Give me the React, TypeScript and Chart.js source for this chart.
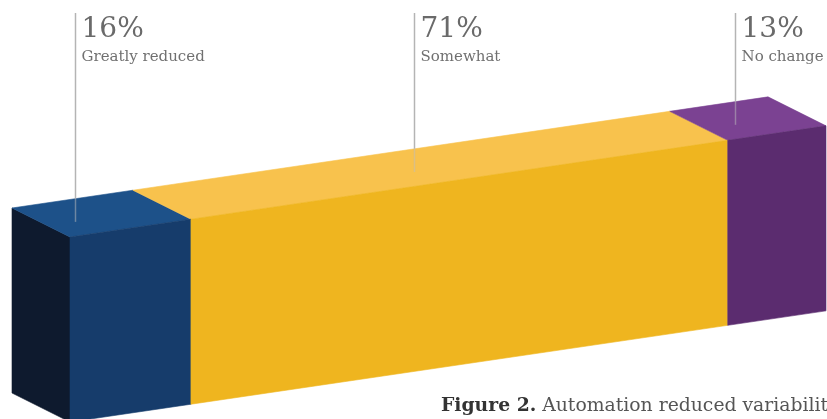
import React, { useEffect, useRef } from "react";
import { Chart, registerables } from "chart.js";

Chart.register(...registerables);

// ---- data ----
const categories = ["Greatly reduced", "Somewhat", "No change"];
const percentages = [16, 71, 13];
const percentLabels = ["16%", "71%", "13%"];
const captionBold = "Figure 2.";
const captionText = " Automation reduced variability";

// ---- styles ----
const frontColors = ["#163c6b", "#efb51f", "#5b2c6f"];
const topColors = ["#1d5189", "#f8c24d", "#7b4292"];
const capColor = "#0e1a2e";

const SLOPE = -0.147; // vertical drift of the bar per horizontal px
const DEPTH = { x: -58, y: -29 }; // oblique depth vector
const LEADER_FRACTION = [0.28, 0.47, 0.37]; // where the leader sits within each segment

const box3dPlugin = {
  id: "box3d",
  beforeDatasetsDraw() {
    return false;
  },
  afterDraw(chart: any) {
    const ctx: CanvasRenderingContext2D = chart.ctx;
    const xScale = chart.scales.x;
    const x0 = xScale.getPixelForValue(0);
    const first = chart.getDatasetMeta(0).data[0] as any;
    const yTop0 = first.y - first.height / 2;
    const yBot0 = first.y + first.height / 2 + 3;
    const top = (x: number) => yTop0 + SLOPE * (x - x0);
    const bot = (x: number) => yBot0 + SLOPE * (x - x0);

    const poly = (pts: number[][], color: string) => {
      ctx.beginPath();
      ctx.moveTo(pts[0][0], pts[0][1]);
      for (let i = 1; i < pts.length; i++) ctx.lineTo(pts[i][0], pts[i][1]);
      ctx.closePath();
      ctx.fillStyle = color;
      ctx.fill();
      ctx.strokeStyle = color;
      ctx.lineWidth = 0.6;
      ctx.stroke();
    };

    ctx.save();
    // left end cap
    poly(
      [
        [x0, top(x0)],
        [x0, bot(x0)],
        [x0 + DEPTH.x, bot(x0) + DEPTH.y],
        [x0 + DEPTH.x, top(x0) + DEPTH.y],
      ],
      capColor
    );

    const segs: { xs: number; xe: number }[] = [];
    chart.data.datasets.forEach((_: any, i: number) => {
      const el = chart.getDatasetMeta(i).data[0] as any;
      const xs = Math.min(el.base, el.x);
      const xe = Math.max(el.base, el.x);
      segs.push({ xs, xe });
      // top face
      poly(
        [
          [xs, top(xs)],
          [xe, top(xe)],
          [xe + DEPTH.x, top(xe) + DEPTH.y],
          [xs + DEPTH.x, top(xs) + DEPTH.y],
        ],
        topColors[i]
      );
    });
    segs.forEach((s, i) => {
      poly(
        [
          [s.xs, top(s.xs)],
          [s.xe, top(s.xe)],
          [s.xe, bot(s.xe)],
          [s.xs, bot(s.xs)],
        ],
        frontColors[i]
      );
    });

    // leader lines and labels
    segs.forEach((s, i) => {
      const px = s.xs + (s.xe - s.xs) * LEADER_FRACTION[i];
      const lx = Math.round(px + DEPTH.x * 0.5) + 0.5;
      const backY = top(lx - DEPTH.x) + DEPTH.y;
      const endY = top(px) + DEPTH.y * 0.35;
      ctx.lineWidth = 1.5;
      ctx.strokeStyle = "#b4b4b4";
      ctx.beginPath();
      ctx.moveTo(lx, 13);
      ctx.lineTo(lx, backY);
      ctx.stroke();
      ctx.strokeStyle = "rgba(190,190,190,0.5)";
      ctx.beginPath();
      ctx.moveTo(lx, backY);
      ctx.lineTo(lx, endY);
      ctx.stroke();

      ctx.textAlign = "left";
      ctx.textBaseline = "alphabetic";
      ctx.fillStyle = "#6a6a6a";
      ctx.font = "28px 'DejaVu Serif'";
      ctx.fillText(percentLabels[i], lx + 6, 37);
      ctx.font = "15px 'DejaVu Serif'";
      ctx.fillStyle = "#707070";
      ctx.fillText(categories[i], lx + 6, 61);
    });

    // caption
    ctx.font = "bold 18.8px 'DejaVu Serif'";
    ctx.fillStyle = "#333333";
    ctx.fillText(captionBold, 441, 411);
    const w = ctx.measureText(captionBold).width;
    ctx.font = "18.8px 'DejaVu Serif'";
    ctx.fillStyle = "#555555";
    ctx.fillText(captionText, 441 + w, 411);
    ctx.restore();
  },
};

export default function App() {
  const canvasRef = useRef<HTMLCanvasElement | null>(null);

  useEffect(() => {
    document.body.style.margin = "0";
    const canvas = canvasRef.current;
    if (!canvas) return;
    const chart = new Chart(canvas, {
      type: "bar",
      data: {
        labels: ["Automation impact"],
        datasets: categories.map((c, i) => ({
          label: c,
          data: [percentages[i]],
          backgroundColor: frontColors[i],
          borderWidth: 0,
          barPercentage: 1,
          categoryPercentage: 1,
        })),
      },
      options: {
        indexAxis: "y",
        responsive: false,
        animation: false,
        events: [],
        layout: { padding: { left: 70, right: 1, top: 237, bottom: 0 } },
        scales: {
          x: { display: false, stacked: true, min: 0, max: 100 },
          y: { display: false, stacked: true },
        },
        plugins: {
          legend: { display: false },
          tooltip: { enabled: false },
          title: { display: false },
        },
      },
      plugins: [box3dPlugin],
    });
    return () => chart.destroy();
  }, []);

  return (
    <div style={{ width: 827, height: 419, background: "#ffffff", overflow: "hidden" }}>
      <canvas ref={canvasRef} width={827} height={419} style={{ display: "block" }} />
    </div>
  );
}
